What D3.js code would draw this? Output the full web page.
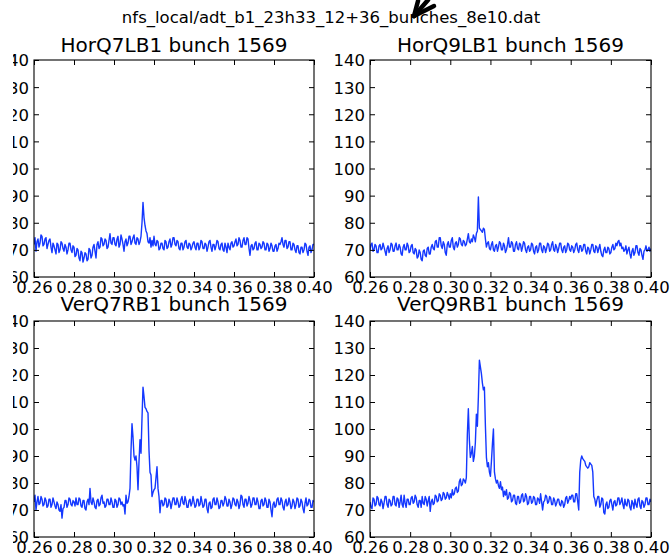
<!DOCTYPE html>
<html>
<head>
<meta charset="utf-8">
<script src="https://cdn.jsdelivr.net/npm/d3@7"></script>
<style>
  html, body { margin: 0; padding: 0; background: #fff; }
  svg { display: block; font-family: "DejaVu Sans", sans-serif; }
</style>
</head>
<body>
<svg id="chart" width="670" height="559"></svg>
<script>
// ---- data ----
const figureTitle = "nfs_local/adt_b1_23h33_12+36_bunches_8e10.dat";
const panelTitles = ["HorQ7LB1 bunch 1569", "HorQ9LB1 bunch 1569", "VerQ7RB1 bunch 1569", "VerQ9RB1 bunch 1569"];
const tuneStart = 0.26, tuneStep = 0.0005;   // sample grid of the tune axis
const xTicks = [0.26, 0.28, 0.30, 0.32, 0.34, 0.36, 0.38, 0.40];
const yTicks = [60, 70, 80, 90, 100, 110, 120, 130, 140];
const xDomain = [0.26, 0.40];
const yDomain = [60, 140];

const horQ7LB1 = [
  72, 74.5, 69.5, 73, 74, 71, 72.5, 75.5, 75, 71.5, 72, 74, 74.5, 70.5, 72, 73.5, 74, 71, 69, 72.5,
  71.5, 70, 68.5, 72.5, 72, 69, 70, 73, 72.5, 70.5, 69.5, 72, 71, 68.5, 70, 72.5, 72.5, 70, 69, 71.5,
  71, 67.5, 68, 70.5, 70, 67, 66, 69.5, 69, 65.5, 67, 69, 68.5, 66, 66.5, 70.5, 70, 67, 68, 71,
  72, 69.5, 67, 72, 73, 70.5, 71, 74.5, 74, 71.5, 72, 74, 73.5, 70.5, 71, 73.5, 76, 72.5, 72, 74.5,
  74.5, 72, 71.5, 74, 75, 71, 72, 75.5, 74, 72, 69.5, 73, 74, 71.5, 72.5, 75, 75, 72, 73, 74.5,
  75.5, 72.5, 72, 74.5, 74, 72, 73, 75, 80, 87.5, 82, 79, 77, 76, 73, 72.5, 74.5, 71, 73.5, 71.5,
  75, 72, 71.5, 73.5, 73, 70, 70.5, 72.5, 72.5, 70.5, 70, 73.5, 73, 70.5, 71, 73, 74, 71, 72, 74.5,
  74.5, 72, 71.5, 73.5, 73, 70.5, 70, 72.5, 72.5, 70, 71, 73, 73.5, 71, 70.5, 72.5, 72, 70, 71, 72.5,
  73, 71, 70, 72.5, 72.5, 70, 71, 73.5, 73, 70.5, 70.5, 72.5, 72, 69.5, 71, 73, 73.5, 71, 69.5, 72,
  72, 70, 71.5, 73.5, 73, 70.5, 70, 72, 72.5, 70, 69.5, 72.5, 71, 69, 72.5, 71, 70, 72.5, 73, 71,
  71.5, 73, 74, 71.5, 72, 74.5, 73.5, 71, 71, 73.5, 74.5, 72, 72, 74.5, 74, 70.5, 68, 71.5, 72, 70,
  70.5, 72.5, 73, 70, 70, 72.5, 72, 70.5, 71, 73, 72.5, 70, 70, 72.5, 72, 69.5, 70.5, 72.5, 71.5, 69.5,
  69.5, 71.5, 72, 69.5, 70.5, 72.5, 72, 73, 74.5, 72, 71, 73.5, 73.5, 70.5, 71, 73, 73, 70, 70, 72.5,
  72, 70, 69, 71.5, 71.5, 69, 68.5, 71, 71, 69, 70, 72.5, 72, 69.5, 68, 71, 71.5, 69, 70, 72,
  72
];
const horQ9LB1 = [
  70, 72, 72.5, 69.5, 70, 72, 71.5, 69, 69, 71.5, 72, 70, 70.5, 72.5, 71, 69.5, 68, 70.5, 71.5, 69,
  70, 72.5, 72, 69.5, 69.5, 71.5, 72.5, 70, 70, 72, 71, 68.5, 68, 71, 72, 70, 70, 72.5, 71.5, 69,
  69.5, 71.5, 72, 69, 68.5, 70.5, 70, 67, 67.5, 70, 69, 66.5, 66, 69.5, 70, 68, 67.5, 70.5, 71, 68.5,
  68.5, 71, 72, 70.5, 70, 73, 73.5, 71, 71, 74.5, 74.5, 71.5, 70.5, 73, 72, 69, 68, 72, 73, 71,
  71, 73.5, 74.5, 71, 70, 72.5, 73, 71, 72, 74.5, 74, 72, 71.5, 73.5, 73, 71.5, 72, 74, 76, 73,
  72.5, 74, 73, 75.5, 74.5, 73, 76, 77, 89.5, 78, 77.5, 77, 76.5, 78, 77.5, 74, 71, 72.5, 73, 70.5,
  70, 72, 73, 70, 69.5, 71.5, 72, 69.5, 71, 73, 72.5, 70, 70, 72.5, 71.5, 69, 70, 72, 74.5, 71,
  71, 73, 72.5, 69.5, 69.5, 72, 73, 70.5, 70, 72.5, 72, 69.5, 71, 73, 72.5, 70, 69, 71, 71.5, 69.5,
  70, 72.5, 72, 69.5, 68.5, 71, 71.5, 69, 70, 72.5, 72.5, 70, 69, 71.5, 71, 69, 70.5, 72.5, 72, 69.5,
  70, 72, 73, 70, 69.5, 72, 71, 69, 70.5, 72.5, 72.5, 70, 69, 71, 71.5, 69, 70, 72.5, 72, 70,
  69.5, 71.5, 71, 69, 70, 72, 72.5, 70, 69, 71.5, 71.5, 69.5, 70, 72, 72, 69.5, 68.5, 71, 70.5, 68.5,
  70, 72, 72, 69.5, 69, 71.5, 71, 69, 70.5, 72, 69.5, 68, 67.5, 70, 71, 69, 69, 71, 70.5, 68.5,
  69, 71, 72, 70, 70.5, 72.5, 71.5, 73, 73.5, 71.5, 72.5, 70.5, 71, 69.5, 70, 71.5, 68.5, 70, 71, 68.5,
  67, 69.5, 70.5, 68, 69, 71.5, 71.5, 69, 68, 70.5, 70, 68, 66.5, 69.5, 70, 71.5, 69.5, 70, 71, 69.5,
  70.5
];
const verQ7RB1 = [
  73, 75.5, 70, 73, 75, 72, 72.5, 75, 74, 71.5, 72, 74.5, 73.5, 71, 71.5, 74, 74, 71, 72, 74.5,
  73, 71.5, 70.5, 73, 72, 70, 69.5, 72, 67, 70.5, 71, 73.5, 73.5, 71, 72, 74.5, 74, 72, 71.5, 73.5,
  73, 71.5, 74.5, 72, 72, 74.5, 74, 71.5, 71, 73.5, 73.5, 70.5, 70, 73, 74, 72, 78, 73, 72, 74.5,
  73, 71, 70.5, 73.5, 74, 71.5, 72, 74.5, 75.5, 72.5, 73, 71, 71.5, 74, 74, 72, 72, 74.5, 73, 71,
  71, 74, 73.5, 71, 72, 74.5, 74, 72, 73, 71.5, 72, 68.5, 75.5, 72.5, 73, 75, 78, 92, 102, 97,
  90, 88.5, 90, 86, 77.5, 88, 96, 91, 104, 115.5, 112, 108, 107.5, 106.5, 106, 92, 84, 83, 75, 76.5,
  77.5, 78, 82, 86, 78, 75, 69, 73.5, 73.5, 71.5, 72, 74.5, 74, 71, 71.5, 74, 73, 70.5, 72.5, 74.5,
  74.5, 72, 72, 74.5, 73, 71, 71.5, 74, 75, 72.5, 72, 75, 73.5, 71, 71, 73.5, 74, 71.5, 72.5, 75,
  73, 71, 71.5, 74, 74, 71.5, 72, 75, 73, 71, 71.5, 74, 74, 70.5, 69, 72.5, 73, 70.5, 71, 74,
  74.5, 72, 72, 74.5, 73, 70.5, 71, 73.5, 73.5, 71.5, 72.5, 75, 74, 71.5, 71.5, 74, 73, 70.5, 72, 74.5,
  74, 72, 71.5, 74, 73, 70.5, 72, 75.5, 75, 72, 71, 74, 74, 71.5, 72.5, 75, 73.5, 71, 72, 74.5,
  74.5, 72, 72, 74.5, 73, 70.5, 70.5, 73.5, 74, 71.5, 72, 74.5, 73.5, 71, 71, 74, 73, 70, 67.5, 72,
  73, 71, 71.5, 74, 74.5, 72, 72, 74.5, 73.5, 71, 70, 73, 74, 71.5, 72, 74.5, 73, 70.5, 71.5, 74,
  73, 70.5, 72, 74.5, 74, 71, 71.5, 74, 73, 70.5, 69, 72.5, 74.5, 71.5, 72, 74, 73.5, 71, 71, 73.5,
  73
];
const verQ9RB1 = [
  73, 71, 70.5, 74.5, 74, 71.5, 72, 75, 74.5, 72, 71.5, 74, 73, 70.5, 72.5, 75, 75, 72, 71, 74,
  73.5, 71.5, 72, 75, 75, 72, 71.5, 74.5, 74, 71, 73, 75.5, 72, 71, 75.5, 72.5, 71, 74, 74, 72,
  72, 74.5, 75, 72.5, 73, 75.5, 74.5, 72, 71, 73.5, 73.5, 71, 75, 72.5, 72, 75, 74, 71.5, 73.5, 75,
  69.5, 73, 74, 72, 72.5, 75.5, 75, 73, 73.5, 76, 75.5, 73.5, 74, 76.5, 76, 74, 74.5, 76.5, 75.5, 74,
  76, 74.5, 77.5, 75.5, 76, 78, 78.5, 76.5, 77, 80.5, 81.5, 79, 79.5, 81.5, 81, 80, 82, 98, 107.5, 96,
  89.5, 91, 93.5, 88, 90, 95, 105.5, 101, 112, 125.5, 123, 120.5, 117, 114.5, 115.5, 101, 89.5, 86, 87.5, 84,
  82.5, 88, 94.5, 100, 84, 81.5, 80, 81, 79, 78, 80.5, 77.5, 78.5, 75, 77, 75.5, 77.5, 74, 74.5, 76.5,
  76, 73, 73.5, 75.5, 75.5, 72.5, 72, 75, 75, 72.5, 73, 75.5, 76, 73, 73.5, 76, 75, 72, 72.5, 75,
  75, 72.5, 73, 75, 74.5, 72, 72, 74.5, 74, 72.5, 76, 73, 70, 73, 73.5, 75.5, 75, 72.5, 73, 75,
  74.5, 72, 72, 74.5, 73.5, 71.5, 72.5, 74, 74, 72, 71.5, 73.5, 73, 71, 72, 74.5, 75, 72.5, 73.5, 75,
  74, 75.5, 75.5, 73, 73, 76, 76, 73, 70, 84, 88.5, 90, 89, 88.5, 88, 86.5, 86, 85.5, 86, 87.5,
  87, 86.5, 84, 75, 74, 71.5, 73.5, 75, 75, 71, 72, 74.5, 74, 69, 68.5, 72, 73, 70.5, 71, 73.5,
  74, 72, 70, 73, 73.5, 71.5, 72, 74.5, 74.5, 72, 73, 74.5, 72, 70.5, 74, 72, 71.5, 74, 73.5, 71,
  70, 73.5, 72.5, 70.5, 74, 72, 71, 74, 74.5, 71.5, 70.5, 73.5, 73, 71, 72, 74.5, 74.5, 72, 72, 74,
  73
];
const seriesList = [horQ7LB1, horQ9LB1, verQ7RB1, verQ9RB1];

// ---- layout ----
const panels = [
  {x0: 34,  x1: 314, y0: 60,  y1: 277, titleY: 51.5, leftCol: true},
  {x0: 370, x1: 651, y0: 60,  y1: 277, titleY: 51.5, leftCol: false},
  {x0: 34,  x1: 314, y0: 321, y1: 537, titleY: 311, leftCol: true},
  {x0: 370, x1: 651, y0: 321, y1: 537, titleY: 311, leftCol: false}
];
const lineColor = "#1438ff";
const tickFont = 16.5;

const svg = d3.select("#chart");
svg.append("rect").attr("width", 670).attr("height", 559).attr("fill", "#fff");

// the y tick labels of the left column are cut off at the left edge in the original
svg.append("clipPath").attr("id", "leftEdgeClip")
  .append("rect").attr("x", 13).attr("y", 0).attr("width", 657).attr("height", 559);

// figure title
svg.append("text")
  .attr("x", 331).attr("y", 23)
  .attr("text-anchor", "middle")
  .attr("font-size", 16.5)
  .attr("fill", "#000")
  .text(figureTitle);

// hand-drawn arrow annotation
const arrow = svg.append("g")
  .attr("stroke", "#000").attr("stroke-width", 4.5)
  .attr("stroke-linecap", "round").attr("fill", "none");
arrow.append("path").attr("d", "M414,16 L418,1");
arrow.append("path").attr("d", "M414,16 L434,6");
arrow.append("path").attr("d", "M414,16 L428,0");

panels.forEach((p, k) => {
  const x = d3.scaleLinear().domain(xDomain).range([p.x0, p.x1]);
  const y = d3.scaleLinear().domain(yDomain).range([p.y1, p.y0]);
  const g = svg.append("g");

  const clipId = "clip" + k;
  svg.append("clipPath").attr("id", clipId)
    .append("rect").attr("x", p.x0).attr("y", p.y0)
    .attr("width", p.x1 - p.x0).attr("height", p.y1 - p.y0);

  const data = seriesList[k].map((v, i) => [tuneStart + i * tuneStep, v]);
  g.append("path")
    .datum(data)
    .attr("clip-path", `url(#${clipId})`)
    .attr("fill", "none")
    .attr("stroke", lineColor)
    .attr("stroke-width", 1.4)
    .attr("stroke-linejoin", "round")
    .attr("d", d3.line().x(d => x(d[0])).y(d => y(d[1])));

  // axes (ticks pointing inward on all four sides)
  const bottom = g.append("g").attr("transform", `translate(0,${p.y1})`)
    .call(d3.axisBottom(x).tickValues(xTicks).tickFormat(d3.format(".2f"))
      .tickSizeInner(-5).tickSizeOuter(0).tickPadding(4));
  const top = g.append("g").attr("transform", `translate(0,${p.y0})`)
    .call(d3.axisTop(x).tickValues(xTicks).tickFormat("")
      .tickSizeInner(-5).tickSizeOuter(0));
  const leftWrap = g.append("g");
  if (p.leftCol) leftWrap.attr("clip-path", "url(#leftEdgeClip)");
  const left = leftWrap.append("g").attr("transform", `translate(${p.x0},0)`)
    .call(d3.axisLeft(y).tickValues(yTicks).tickFormat(d => d)
      .tickSizeInner(-5).tickSizeOuter(0).tickPadding(5));
  const right = g.append("g").attr("transform", `translate(${p.x1},0)`)
    .call(d3.axisRight(y).tickValues(yTicks).tickFormat("")
      .tickSizeInner(-5).tickSizeOuter(0));

  [bottom, top, left, right].forEach(a => {
    a.select(".domain").remove();
    a.selectAll(".tick line").attr("stroke", "#000").attr("stroke-width", 1);
    a.selectAll(".tick text")
      .attr("font-family", "DejaVu Sans, sans-serif")
      .attr("font-size", tickFont).attr("fill", "#000");
  });
  left.selectAll(".tick text").attr("dy", "0.36em");

  // frame
  g.append("rect")
    .attr("x", p.x0).attr("y", p.y0)
    .attr("width", p.x1 - p.x0).attr("height", p.y1 - p.y0)
    .attr("fill", "none").attr("stroke", "#000").attr("stroke-width", 1.1);

  // panel title
  svg.append("text")
    .attr("x", (p.x0 + p.x1) / 2).attr("y", p.titleY)
    .attr("text-anchor", "middle")
    .attr("font-size", 20)
    .attr("fill", "#000")
    .text(panelTitles[k]);
});
</script>
</body>
</html>
